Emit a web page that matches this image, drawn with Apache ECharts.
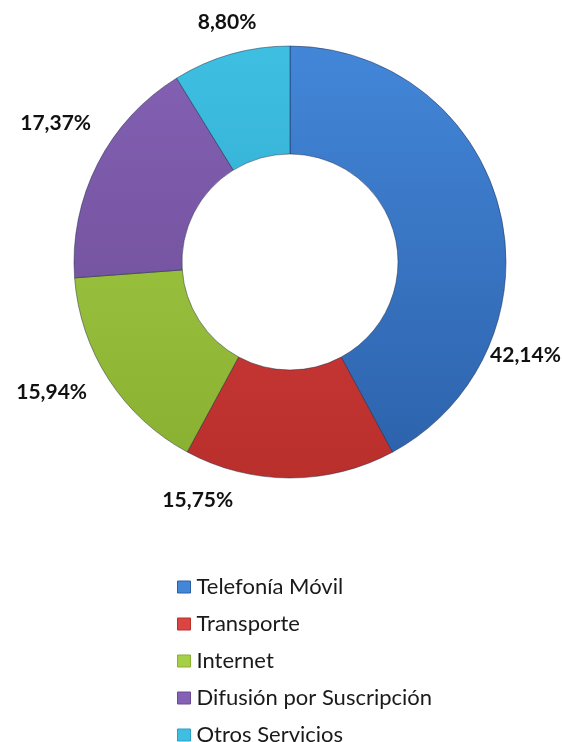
<!DOCTYPE html>
<html>
<head>
<meta charset="utf-8">
<script src="https://cdn.jsdelivr.net/npm/echarts@6/dist/echarts.min.js"></script>
<style>
  html, body { margin: 0; padding: 0; background: #fff; overflow: hidden; }
  #chart { width: 562px; height: 780px; }
</style>
</head>
<body>
<div id="chart"></div>
<script>
// data
var categories = ['Telefonía Móvil', 'Transporte', 'Internet', 'Difusión por Suscripción', 'Otros Servicios']
var shares = [42.14, 15.75, 15.94, 17.37, 8.80]

// look
var topColors = ['#4386d8', '#da4441', '#a6cf48', '#8461b4', '#3ebfe1']
var bottomColors = ['#2c61aa', '#b92f2c', '#89af30', '#6a4a92', '#28a0c6']
var labelNudge = [[21, 146], [-87, 22], [-52, 13], [-37, -41], [1, -32]]

var CX = 290, CY = 262, R = 216

function fillFor(i) {
    return {
        type: 'linear', global: true,
        x: 0, y: CY - R, x2: 0, y2: CY + R,
        colorStops: [
            { offset: 0, color: topColors[i] },
            { offset: 1, color: bottomColors[i] }
        ]
    }
}

var pieData = []
for (var i in categories) {
    pieData.push({
        name: categories[i],
        value: shares[i],
        itemStyle: { color: fillFor(i) }
    })
}

var chart = echarts.init(document.getElementById('chart'))

var option = {
    backgroundColor: '#fff',
    animation: false,
    legend: {
        orient: 'vertical',
        left: 177,
        top: 576,
        padding: 0,
        itemWidth: 13,
        itemHeight: 12,
        itemGap: 15,
        icon: 'rect',
        textStyle: { fontFamily: 'Lato', fontSize: 22, color: '#1a1a1a', padding: [0, 0, 0, 1] },
        data: categories.map(function (c, i) {
            return { name: c, itemStyle: { color: topColors[i], borderColor: bottomColors[i], borderWidth: 1 } }
        })
    },
    series: [{
        type: 'pie',
        center: [CX, CY],
        radius: [R / 2, R],
        startAngle: 90,
        clockwise: true,
        avoidLabelOverlap: false,
        itemStyle: { borderColor: 'rgba(20,30,60,0.45)', borderWidth: 1 },
        label: {
            show: true,
            position: 'outside',
            fontFamily: 'Lato',
            fontWeight: 'bold',
            fontSize: 21,
            color: '#111',
            formatter: function (p) {
                return p.value.toFixed(2).replace('.', ',') + '%'
            }
        },
        labelLine: { show: false, length: 0, length2: 0 },
        labelLayout: function (p) {
            var n = labelNudge[p.dataIndex]
            return { dx: n[0], dy: n[1], align: 'center', verticalAlign: 'middle' }
        },
        emphasis: { disabled: true },
        data: pieData
    }]
}
chart.setOption(option)
</script>
</body>
</html>
